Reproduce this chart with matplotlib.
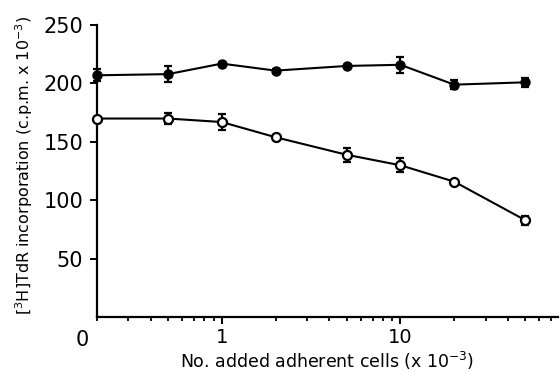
import matplotlib.pyplot as plt
from matplotlib.ticker import FixedLocator, NullFormatter

# cells added (x 10^-3); 0 is drawn at the left edge of the log axis
cells = [0, 0.5, 1, 2, 5, 10, 20, 50]

# [3H]TdR incorporation (c.p.m. x 10^-3)
filled_vals = [207, 208, 217, 211, 215, 216, 199, 201]
filled_err = [5, 7, 1, 1, 1, 7, 4, 4]
open_vals = [170, 170, 167, 154, 139, 130, 116, 83]
open_err = [1, 5, 7, 2, 6, 6, 1, 4]

x_left = 0.2
x_right = 76

plt.rcParams['font.family'] = ['DejaVu Sans']

fig = plt.figure(figsize=(5.6, 3.74), dpi=100)
ax = fig.add_axes([0.173, 0.152, 0.823, 0.781])

xpos = [x_left if c == 0 else c for c in cells]

ax.errorbar(xpos, filled_vals, yerr=filled_err, color='black', lw=1.5,
            marker='o', ms=6.5, mfc='black', mec='black', capsize=3,
            elinewidth=1.6, capthick=1.6, clip_on=False, zorder=3)
ax.errorbar(xpos, open_vals, yerr=open_err, color='black', lw=1.5,
            marker='o', ms=6.5, mfc='white', mec='black', mew=1.6, capsize=3,
            elinewidth=1.6, capthick=1.6, clip_on=False, zorder=3)

ax.set_xscale('log')
ax.set_xlim(x_left, x_right)
ax.set_ylim(0, 250)

ax.spines['top'].set_visible(False)
ax.spines['right'].set_visible(False)
ax.spines['left'].set_linewidth(1.6)
ax.spines['bottom'].set_linewidth(1.6)

ax.xaxis.set_major_locator(FixedLocator([1, 10]))
ax.set_xticklabels(['1', '10'])
minor = [m * d for d in (0.1, 1, 10) for m in range(2, 10) if x_left <= m * d <= x_right]
ax.xaxis.set_minor_locator(FixedLocator(minor))
ax.xaxis.set_minor_formatter(NullFormatter())

ax.set_yticks([50, 100, 150, 200, 250])
ax.set_yticklabels(['50', '100', '150', '200', '250'])

ax.tick_params(axis='y', which='major', labelsize=15, width=1.4, length=5, pad=5)
ax.tick_params(axis='x', which='major', labelsize=14, width=1.4, length=5, pad=3)
ax.tick_params(axis='x', which='minor', width=1.3, length=3)

# shared origin label
ax.text(-0.018, -0.045, '0', transform=ax.transAxes, fontsize=15,
        ha='right', va='top')

ax.set_xlabel('No. added adherent cells (x 10$^{-3}$)', fontsize=12.5, labelpad=2)
ax.set_ylabel('[$^3$H]TdR incorporation (c.p.m. x 10$^{-3}$)', fontsize=11.5)
ax.yaxis.set_label_coords(-0.135, 0.52)

fig.savefig('out.png', dpi=100)
